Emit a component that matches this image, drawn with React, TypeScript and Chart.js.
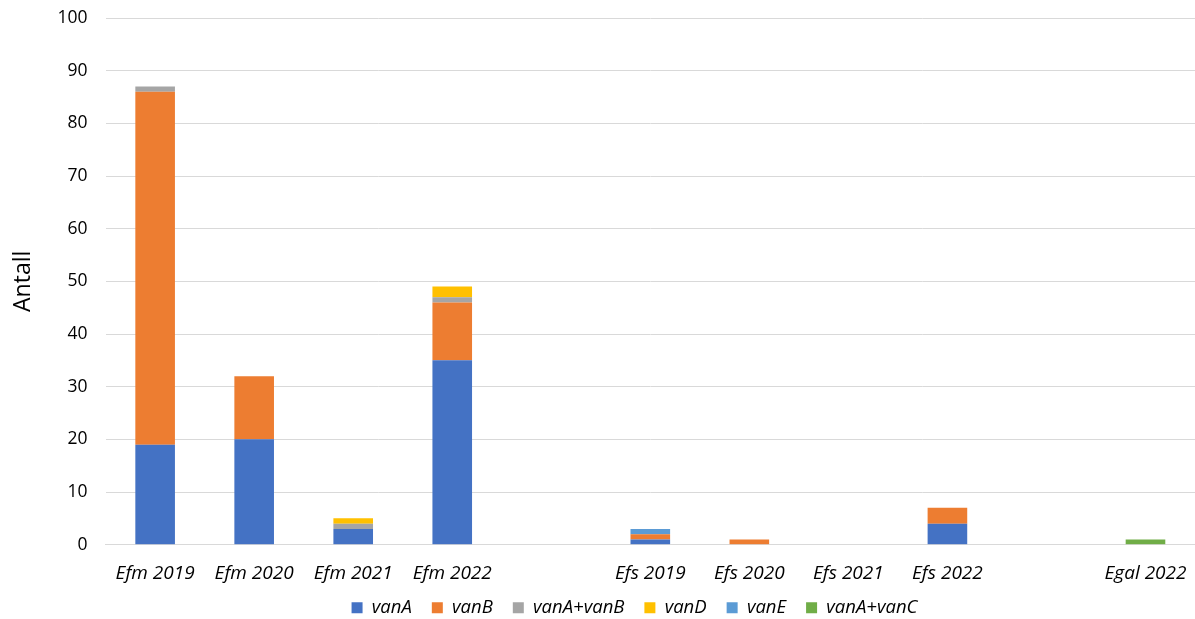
import React, { useEffect, useRef } from "react";
import { Chart, registerables } from "chart.js";

Chart.register(...registerables);

const categories = ["Efm 2019", "Efm 2020", "Efm 2021", "Efm 2022", "", "Efs 2019", "Efs 2020", "Efs 2021", "Efs 2022", "", "Egal 2022"];
const vanA = [19, 20, 3, 35, 0, 1, 0, 0, 4, 0, 0];
const vanB = [67, 12, 0, 11, 0, 1, 1, 0, 3, 0, 0];
const vanAvanB = [1, 0, 1, 1, 0, 0, 0, 0, 0, 0, 0];
const vanD = [0, 0, 1, 2, 0, 0, 0, 0, 0, 0, 0];
const vanE = [0, 0, 0, 0, 0, 1, 0, 0, 0, 0, 0];
const vanAvanC = [0, 0, 0, 0, 0, 0, 0, 0, 0, 0, 1];
const yTicks = [0, 10, 20, 30, 40, 50, 60, 70, 80, 90, 100];

const FONT = "'Open Sans', 'Liberation Sans', sans-serif";

const layoutTweaks = {
  id: "layoutTweaks",
  afterLayout(chart: any) {
    if (chart.legend) {
      chart.legend.left += 32;
      chart.legend.right += 32;
    }
    if (chart.scales && chart.scales.x) {
      chart.scales.x.bottom += 30;
    }
  },
};

export default function App() {
  const ref = useRef<HTMLCanvasElement>(null);
  useEffect(() => {
    if (!ref.current) return;
    const mk = (label: string, data: number[], color: string) => ({
      label,
      data,
      backgroundColor: color,
      borderWidth: 0,
      barPercentage: 0.4,
      categoryPercentage: 1,
    });
    const chart = new Chart(ref.current, {
      type: "bar",
      data: {
        labels: categories,
        datasets: [
          mk("vanA", vanA, "#4472C4"),
          mk("vanB", vanB, "#ED7D31"),
          mk("vanA+vanB", vanAvanB, "#A5A5A5"),
          mk("vanD", vanD, "#FFC000"),
          mk("vanE", vanE, "#5B9BD5"),
          mk("vanA+vanC", vanAvanC, "#70AD47"),
        ],
      },
      plugins: [layoutTweaks],
      options: {
        animation: false,
        responsive: false,
        maintainAspectRatio: false,
        layout: { padding: { top: 0, right: 0, left: 10, bottom: -8 } },
        plugins: {
          tooltip: { enabled: false },
          legend: {
            position: "bottom",
            labels: {
              boxWidth: 11,
              boxHeight: 11,
              padding: 20,
              color: "#000",
              font: { family: FONT, size: 18.5, style: "italic" },
            },
          },
        },
        scales: {
          x: {
            stacked: true,
            grid: { display: false, drawTicks: false },
            border: { display: true, color: "#d9d9d9", width: 1 },
            afterFit: (axis: any) => {
              axis.height -= 23;
              axis.paddingRight = 0;
              axis.paddingLeft = 0;
            },
            ticks: {
              color: "#000",
              padding: 17,
              maxRotation: 0,
              autoSkip: false,
              font: { family: FONT, size: 19, style: "italic" },
            },
          },
          y: {
            stacked: true,
            min: 0,
            max: 100,
            afterBuildTicks: (axis: any) => {
              axis.ticks = yTicks.map((v) => ({ value: v }));
            },
            afterFit: (axis: any) => {
              axis.paddingTop = 18;
              axis.paddingBottom = 10;
            },
            grid: { color: "#d9d9d9", drawTicks: false },
            border: { display: false },
            ticks: {
              color: "#000",
              padding: 18,
              font: { family: FONT, size: 17.5 },
            },
            title: {
              display: true,
              text: "Antall",
              color: "#000",
              padding: { top: 0, bottom: 2 },
              font: { family: FONT, size: 23 },
            },
          },
        },
      },
    });
    return () => chart.destroy();
  }, []);
  return (
    <div style={{ position: "absolute", left: 0, top: 0, width: 1195, height: 619, background: "#fff" }}>
      <canvas ref={ref} width={1195} height={619} style={{ width: 1195, height: 619 }} />
    </div>
  );
}
